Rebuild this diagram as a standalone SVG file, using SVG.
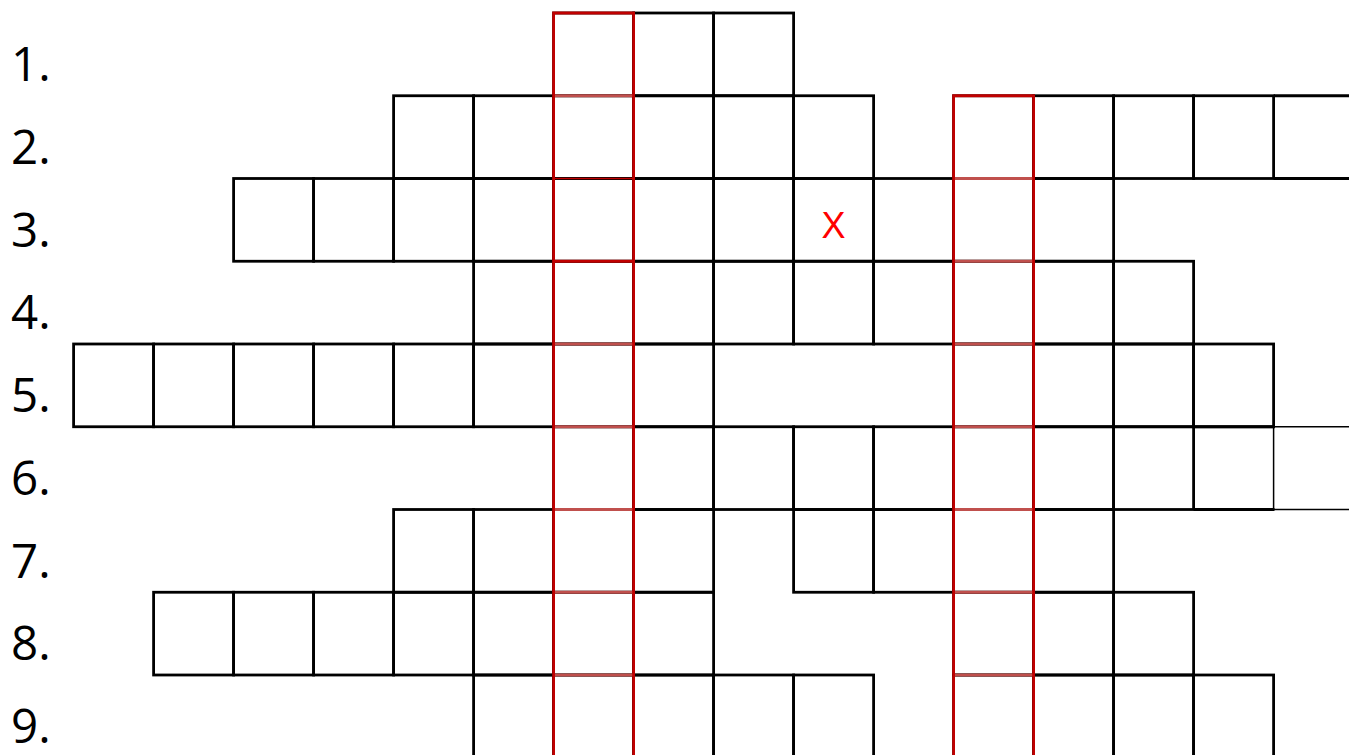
<svg xmlns="http://www.w3.org/2000/svg" width="1349" height="755" viewBox="0 0 1349 755">
<style>
.c{fill:none;stroke:#000;stroke-width:2.8}
.t{fill:none;stroke:#000;stroke-width:1.5}
.rv{fill:none;stroke:#C00000;stroke-width:2.8;stroke-linejoin:miter}
.rl{fill:none;stroke:#C0504D;stroke-width:2.8}
.rd{fill:none;stroke:#C00000;stroke-width:2.8}
.lbl{font-family:"Open Sans","Liberation Sans",sans-serif;font-size:47.5px;fill:#000}
.x{font-family:"Liberation Sans",Arial,sans-serif;font-size:36px;fill:#FF0000}
</style>
<rect width="1349" height="755" fill="#fff"/>
<g id="labels">
<text class="lbl" x="11" y="81">1.</text>
<text class="lbl" x="11" y="163.5">2.</text>
<text class="lbl" x="11" y="246.5">3.</text>
<text class="lbl" x="11" y="329">4.</text>
<text class="lbl" x="11" y="412">5.</text>
<text class="lbl" x="11" y="495">6.</text>
<text class="lbl" x="11" y="577.5">7.</text>
<text class="lbl" x="11" y="660">8.</text>
<text class="lbl" x="11" y="743">9.</text>
</g>
<g id="row1">
<rect class="c" x="553.6" y="13" width="80" height="82.75"/>
<rect class="c" x="633.6" y="13" width="80" height="82.75"/>
<rect class="c" x="713.6" y="13" width="80" height="82.75"/>
</g>
<g id="row2">
<rect class="c" x="393.6" y="95.75" width="80" height="82.75"/>
<rect class="c" x="473.6" y="95.75" width="80" height="82.75"/>
<rect class="c" x="553.6" y="95.75" width="80" height="82.75"/>
<rect class="c" x="633.6" y="95.75" width="80" height="82.75"/>
<rect class="c" x="713.6" y="95.75" width="80" height="82.75"/>
<rect class="c" x="793.6" y="95.75" width="80" height="82.75"/>
<rect class="c" x="953.6" y="95.75" width="80" height="82.75"/>
<rect class="c" x="1033.6" y="95.75" width="80" height="82.75"/>
<rect class="c" x="1113.6" y="95.75" width="80" height="82.75"/>
<rect class="c" x="1193.6" y="95.75" width="80" height="82.75"/>
<path class="c" d="M1273.6,95.75H1350M1273.6,178.5H1350"/>
</g>
<g id="row3">
<rect class="c" x="233.6" y="178.5" width="80" height="82.75"/>
<rect class="c" x="313.6" y="178.5" width="80" height="82.75"/>
<rect class="c" x="393.6" y="178.5" width="80" height="82.75"/>
<rect class="c" x="473.6" y="178.5" width="80" height="82.75"/>
<rect class="c" x="553.6" y="178.5" width="80" height="82.75"/>
<rect class="c" x="633.6" y="178.5" width="80" height="82.75"/>
<rect class="c" x="713.6" y="178.5" width="80" height="82.75"/>
<rect class="c" x="793.6" y="178.5" width="80" height="82.75"/>
<rect class="c" x="873.6" y="178.5" width="80" height="82.75"/>
<rect class="c" x="953.6" y="178.5" width="80" height="82.75"/>
<rect class="c" x="1033.6" y="178.5" width="80" height="82.75"/>
<text class="x" x="833.5" y="237.5" text-anchor="middle">X</text>
</g>
<g id="row4">
<rect class="c" x="473.6" y="261.25" width="80" height="82.75"/>
<rect class="c" x="553.6" y="261.25" width="80" height="82.75"/>
<rect class="c" x="633.6" y="261.25" width="80" height="82.75"/>
<rect class="c" x="713.6" y="261.25" width="80" height="82.75"/>
<rect class="c" x="793.6" y="261.25" width="80" height="82.75"/>
<rect class="c" x="873.6" y="261.25" width="80" height="82.75"/>
<rect class="c" x="953.6" y="261.25" width="80" height="82.75"/>
<rect class="c" x="1033.6" y="261.25" width="80" height="82.75"/>
<rect class="c" x="1113.6" y="261.25" width="80" height="82.75"/>
</g>
<g id="row5">
<rect class="c" x="73.6" y="344" width="80" height="82.75"/>
<rect class="c" x="153.6" y="344" width="80" height="82.75"/>
<rect class="c" x="233.6" y="344" width="80" height="82.75"/>
<rect class="c" x="313.6" y="344" width="80" height="82.75"/>
<rect class="c" x="393.6" y="344" width="80" height="82.75"/>
<rect class="c" x="473.6" y="344" width="80" height="82.75"/>
<rect class="c" x="553.6" y="344" width="80" height="82.75"/>
<rect class="c" x="633.6" y="344" width="80" height="82.75"/>
<rect class="c" x="953.6" y="344" width="80" height="82.75"/>
<rect class="c" x="1033.6" y="344" width="80" height="82.75"/>
<rect class="c" x="1113.6" y="344" width="80" height="82.75"/>
<rect class="c" x="1193.6" y="344" width="80" height="82.75"/>
</g>
<g id="row6">
<rect class="c" x="553.6" y="426.75" width="80" height="82.75"/>
<rect class="c" x="633.6" y="426.75" width="80" height="82.75"/>
<rect class="c" x="713.6" y="426.75" width="80" height="82.75"/>
<rect class="c" x="793.6" y="426.75" width="80" height="82.75"/>
<rect class="c" x="873.6" y="426.75" width="80" height="82.75"/>
<rect class="c" x="953.6" y="426.75" width="80" height="82.75"/>
<rect class="c" x="1033.6" y="426.75" width="80" height="82.75"/>
<rect class="c" x="1113.6" y="426.75" width="80" height="82.75"/>
<path class="c" d="M1193.6,426.75H1274.5M1193.6,509.5H1274.5"/>
<path class="t" d="M1273.6,426.75V509.5M1273.6,426.75H1350M1273.6,509.5H1350"/>
</g>
<g id="row7">
<rect class="c" x="393.6" y="509.5" width="80" height="82.75"/>
<rect class="c" x="473.6" y="509.5" width="80" height="82.75"/>
<rect class="c" x="553.6" y="509.5" width="80" height="82.75"/>
<rect class="c" x="633.6" y="509.5" width="80" height="82.75"/>
<rect class="c" x="793.6" y="509.5" width="80" height="82.75"/>
<rect class="c" x="873.6" y="509.5" width="80" height="82.75"/>
<rect class="c" x="953.6" y="509.5" width="80" height="82.75"/>
<rect class="c" x="1033.6" y="509.5" width="80" height="82.75"/>
</g>
<g id="row8">
<rect class="c" x="153.6" y="592.25" width="80" height="82.75"/>
<rect class="c" x="233.6" y="592.25" width="80" height="82.75"/>
<rect class="c" x="313.6" y="592.25" width="80" height="82.75"/>
<rect class="c" x="393.6" y="592.25" width="80" height="82.75"/>
<rect class="c" x="473.6" y="592.25" width="80" height="82.75"/>
<rect class="c" x="553.6" y="592.25" width="80" height="82.75"/>
<rect class="c" x="633.6" y="592.25" width="80" height="82.75"/>
<rect class="c" x="953.6" y="592.25" width="80" height="82.75"/>
<rect class="c" x="1033.6" y="592.25" width="80" height="82.75"/>
<rect class="c" x="1113.6" y="592.25" width="80" height="82.75"/>
</g>
<g id="row9">
<rect class="c" x="473.6" y="675" width="80" height="84"/>
<rect class="c" x="553.6" y="675" width="80" height="84"/>
<rect class="c" x="633.6" y="675" width="80" height="84"/>
<rect class="c" x="713.6" y="675" width="80" height="84"/>
<rect class="c" x="793.6" y="675" width="80" height="84"/>
<rect class="c" x="953.6" y="675" width="80" height="84"/>
<rect class="c" x="1033.6" y="675" width="80" height="84"/>
<rect class="c" x="1113.6" y="675" width="80" height="84"/>
<rect class="c" x="1193.6" y="675" width="80" height="84"/>
</g>
<g id="solution-columns">
<path class="rl" d="M553.6,95.75H633.6M553.6,344H633.6M553.6,426.75H633.6M553.6,509.5H633.6M553.6,592.25H633.6M553.6,675H633.6"/>
<path class="rd" d="M553.6,261.25H633.6"/>
<path class="rd" style="stroke-width:1.7" d="M553.6,178.5H633.6"/>
<path class="rl" d="M953.6,178.5H1033.6M953.6,261.25H1033.6M953.6,344H1033.6M953.6,426.75H1033.6M953.6,509.5H1033.6M953.6,592.25H1033.6M953.6,675H1033.6"/>
<path class="rv" d="M553.6,760V13H633.6V760"/>
<path class="rv" d="M953.6,760V95.75H1033.6V760"/>
</g>
</svg>
